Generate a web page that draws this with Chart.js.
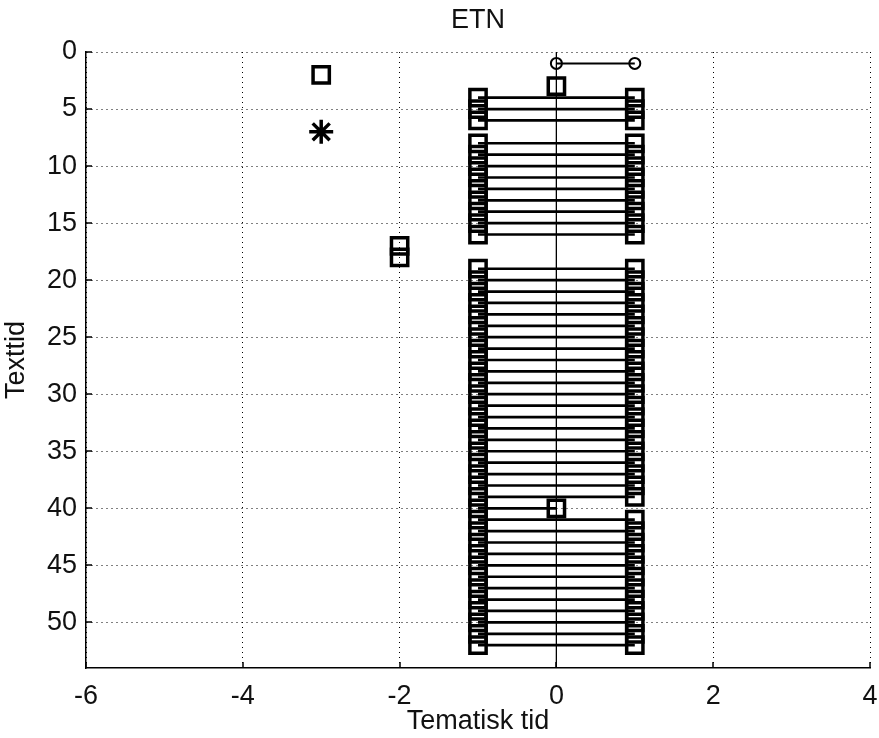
<!DOCTYPE html>
<html>
<head>
<meta charset="utf-8">
<script src="https://cdn.jsdelivr.net/npm/chart.js@4"></script>
<style>
  html, body { margin: 0; padding: 0; background: #fff; }
  #wrap { width: 879px; height: 738px; }
</style>
</head>
<body>
<div id="wrap"><canvas id="c" width="879" height="738"></canvas></div>
<script>
// Axis ticks
const xTicks = [-6, -4, -2, 0, 2, 4];
const yTicks = [0, 5, 10, 15, 20, 25, 30, 35, 40, 45, 50];

// Horizontal segments: one per text-time row, from rowFrom to rowTo
const rowY    = [4, 5, 6, 8, 9, 10, 11, 12, 13, 14, 15, 16,
                 19, 20, 21, 22, 23, 24, 25, 26, 27, 28, 29, 30, 31, 32, 33, 34,
                 35, 36, 37, 38, 39, 40, 41, 42, 43, 44, 45, 46, 47, 48, 49, 50, 51, 52];
const rowFrom = [-1, -1, -1, -1, -1, -1, -1, -1, -1, -1, -1, -1,
                 -1, -1, -1, -1, -1, -1, -1, -1, -1, -1, -1, -1, -1, -1, -1, -1,
                 -1, -1, -1, -1, -1, -1, -1, -1, -1, -1, -1, -1, -1, -1, -1, -1, -1, -1];
const rowTo   = [1, 1, 1, 1, 1, 1, 1, 1, 1, 1, 1, 1,
                 1, 1, 1, 1, 1, 1, 1, 1, 1, 1, 1, 1, 1, 1, 1, 1,
                 1, 1, 1, 1, 1, 0, 1, 1, 1, 1, 1, 1, 1, 1, 1, 1, 1, 1];

// Isolated square markers
const sqX = [-3, 0, -2, -2];
const sqY = [2, 3, 17, 18];

// Asterisk marker
const starX = [-3];
const starY = [7];

// Circle-ended link at the top
const linkX = [0, 1];
const linkY = [1, 1];

// Vertical reference line at zero
const refX = [0, 0];
const refY = [0, 54];

const FONT = '"Liberation Sans", Arial, Helvetica, sans-serif';
const INK = '#000';
const TXT = '#111';
const FS = 27;
const RIGHT_GAP = 9;

const datasets = [];

datasets.push({
  label: 'ref',
  data: refX.map((x, i) => ({ x, y: refY[i] })),
  showLine: true,
  borderColor: INK,
  borderWidth: 1,
  pointRadius: 0,
  order: 5
});

rowY.forEach((y, i) => {
  datasets.push({
    label: 'row ' + y,
    data: [{ x: rowFrom[i], y }, { x: rowTo[i], y }],
    showLine: true,
    borderColor: INK,
    borderWidth: 2.7,
    pointStyle: 'rect',
    pointRadius: 11.5,
    pointBorderWidth: 3.5,
    pointBorderColor: INK,
    pointBackgroundColor: 'rgba(0,0,0,0)',
    order: 2
  });
});

datasets.push({
  label: 'link',
  data: linkX.map((x, i) => ({ x, y: linkY[i] })),
  showLine: true,
  borderColor: INK,
  borderWidth: 2,
  pointStyle: 'circle',
  pointRadius: 5.5,
  pointBorderWidth: 2,
  pointBorderColor: INK,
  pointBackgroundColor: 'rgba(0,0,0,0)',
  order: 1
});

datasets.push({
  label: 'squares',
  data: sqX.map((x, i) => ({ x, y: sqY[i] })),
  showLine: false,
  pointStyle: 'rect',
  pointRadius: 11.5,
  pointBorderWidth: 3.5,
  pointBorderColor: INK,
  pointBackgroundColor: 'rgba(0,0,0,0)',
  order: 1
});

datasets.push({
  label: 'star',
  data: starX.map((x, i) => ({ x, y: starY[i] })),
  showLine: false,
  pointStyle: 'star',
  pointRadius: 12,
  pointBorderWidth: 3.5,
  pointBorderColor: INK,
  pointBackgroundColor: 'rgba(0,0,0,0)',
  order: 1
});

// Stretch the plot area to a fixed gap from the right edge of the canvas
const rightEdge = {
  id: 'rightEdge',
  afterLayout(chart) {
    const area = chart.chartArea;
    const target = chart.width - RIGHT_GAP;
    if (Math.abs(area.right - target) < 0.5) return;
    area.right = target;
    area.width = target - area.left;
    const xs = chart.scales.x;
    xs.right = target;
    xs.width = target - xs.left;
    xs.configure();
    const tb = chart.titleBlock;
    if (tb) {
      tb.left = area.left;
      tb.right = target;
      tb.width = target - area.left;
    }
  }
};

// Short tick marks pointing into the plot area
const inwardTicks = {
  id: 'inwardTicks',
  afterDatasetsDraw(chart) {
    const { ctx, chartArea } = chart;
    const xs = chart.scales.x, ys = chart.scales.y;
    const len = 6;
    ctx.save();
    ctx.strokeStyle = INK;
    ctx.lineWidth = 1.5;
    ctx.beginPath();
    xs.ticks.forEach(t => {
      const px = Math.round(xs.getPixelForValue(t.value));
      ctx.moveTo(px, chartArea.bottom);
      ctx.lineTo(px, chartArea.bottom - len);
    });
    ys.ticks.forEach(t => {
      const py = Math.round(ys.getPixelForValue(t.value));
      ctx.moveTo(chartArea.left, py);
      ctx.lineTo(chartArea.left + len, py);
    });
    ctx.stroke();
    ctx.restore();
  }
};

new Chart(document.getElementById('c'), {
  type: 'scatter',
  data: { datasets },
  plugins: [rightEdge, inwardTicks],
  options: {
    responsive: false,
    animation: false,
    layout: { padding: 0 },
    plugins: {
      legend: { display: false },
      tooltip: { enabled: false },
      title: {
        display: true,
        fullSize: false,
        text: 'ETN',
        color: TXT,
        font: { family: FONT, size: FS, weight: 'normal' },
        padding: { top: 4, bottom: 15.6 }
      }
    },
    scales: {
      x: {
        type: 'linear',
        position: 'bottom',
        min: -6,
        max: 4,
        afterBuildTicks: s => { s.ticks = xTicks.map(v => ({ value: v })); },
        afterFit: s => { s.height = 70; },
        ticks: { color: TXT, font: { family: FONT, size: FS }, padding: 0 },
        grid: { color: INK, lineWidth: 1, drawTicks: true, tickLength: 12, tickColor: 'rgba(0,0,0,0)' },
        border: { display: true, color: INK, width: 1.5, dash: [1, 4] },
        title: {
          display: true,
          text: 'Tematisk tid',
          color: TXT,
          font: { family: FONT, size: FS },
          padding: { top: 0, bottom: 0 }
        }
      },
      y: {
        type: 'linear',
        reverse: true,
        min: 0,
        max: 54,
        afterBuildTicks: s => { s.ticks = yTicks.map(v => ({ value: v })); },
        afterFit: s => { s.width = 86; },
        ticks: { color: TXT, font: { family: FONT, size: FS }, padding: 9 },
        grid: { color: INK, lineWidth: 1, drawTicks: false },
        border: { display: true, color: INK, width: 1.5, dash: [1, 4] },
        title: {
          display: true,
          text: 'Texttid',
          color: TXT,
          font: { family: FONT, size: FS },
          padding: { top: 0, bottom: 2 }
        }
      }
    }
  }
});
</script>
</body>
</html>
